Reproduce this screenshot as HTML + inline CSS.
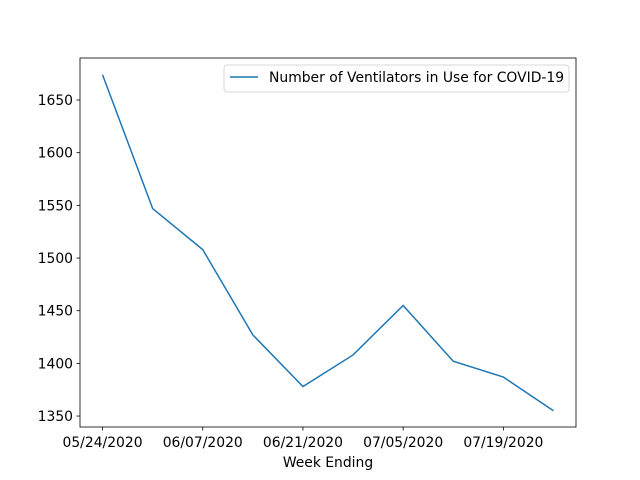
<!DOCTYPE html>
<html><head><meta charset="utf-8"><style>body{margin:0;background:#fff}svg{display:block;font-family:"DejaVu Sans","Liberation Sans",sans-serif}</style></head>
<body>
<svg id="chart" width="640" height="480"></svg>
<script>
const categories=["05/24/2020","05/31/2020","06/07/2020","06/14/2020","06/21/2020","06/28/2020","07/05/2020","07/12/2020","07/19/2020","07/26/2020"];
const ventilators=[1674,1547,1508,1427,1378,1408,1455,1402,1387,1355];
const yTicks=[1350,1400,1450,1500,1550,1600,1650];
const xTickIdx=[0,2,4,6,8];
const NS="http://www.w3.org/2000/svg";
const svg=document.getElementById('chart');
const L=80,R=576,T=58,B=427;
const x=i=>L+(i+0.45)/9.9*(R-L);
const y=v=>B-(v-1339.6)/(1689.9-1339.6)*(B-T);
function mk(t,a,p){const e=document.createElementNS(NS,t);for(const k in a)e.setAttribute(k,a[k]);(p||svg).appendChild(e);return e;}
const frame=mk('rect',{x:L,y:T,width:R-L,height:B-T,fill:'none',stroke:'#000','stroke-width':0.8});


yTicks.forEach(v=>{
 const g=mk('g',{});
 
 
 mk('line',{x1:L-3.5,x2:L,y1:y(v),y2:y(v),stroke:'#000','stroke-width':0.8},g);
 const t=mk('text',{x:L-7,y:y(v)+5,'text-anchor':'end','font-size':13.9},g);t.textContent=v;
});
xTickIdx.forEach(i=>{
 const g=mk('g',{});
 
 
 mk('line',{x1:x(i),x2:x(i),y1:B,y2:B+3.5,stroke:'#000','stroke-width':0.8},g);
 const t=mk('text',{x:x(i),y:B+20,'text-anchor':'middle','font-size':13.9},g);t.textContent=categories[i];
});
const xt=mk('text',{x:(L+R)/2,y:467,'text-anchor':'middle','font-size':13.9});xt.textContent='Week Ending';


const line=mk('polyline',{points:ventilators.map((v,i)=>x(i)+','+y(v)).join(' '),fill:'none',stroke:'#1f77b4','stroke-width':1.5});


const lg=mk('g',{});


mk('rect',{x:224,y:65,width:345,height:27,rx:3,fill:'#fff',stroke:'#ccc','stroke-width':0.8},lg);
mk('line',{x1:230,x2:258,y1:77,y2:77,stroke:'#1f77b4','stroke-width':1.5},lg);
const lt=mk('text',{x:269,y:82,'font-size':13.9},lg);lt.textContent='Number of Ventilators in Use for COVID-19';
</script>
</body></html>
